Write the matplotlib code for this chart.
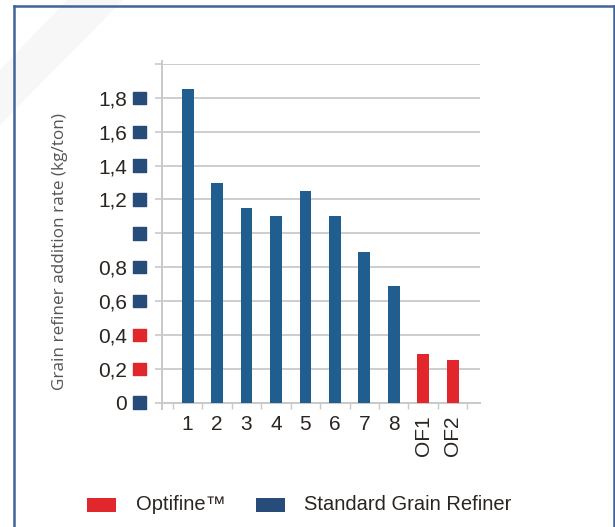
import matplotlib.pyplot as plt
from matplotlib.patches import Rectangle, Polygon
from matplotlib.lines import Line2D
import numpy as np

plt.rcParams['font.family'] = ['Liberation Sans', 'DejaVu Sans']

# data
categories = ['1', '2', '3', '4', '5', '6', '7', '8', 'OF1', 'OF2']
values = [1.85, 1.30, 1.15, 1.10, 1.25, 1.10, 0.89, 0.69, 0.29, 0.25]
is_optifine = [False] * 8 + [True] * 2
ytick_vals = [0, 0.2, 0.4, 0.6, 0.8, 1.0, 1.2, 1.4, 1.6, 1.8, 2.0]
ytick_labels = ['0', '0,2', '0,4', '0,6', '0,8', '', '1,2', '1,4', '1,6', '1,8', '']
marker_vals = [0, 0.2, 0.4, 0.6, 0.8, 1.0, 1.2, 1.4, 1.6, 1.8]
marker_red = [False, True, True, False, False, False, False, False, False, False]

W, H = 615, 527
bar_blue = '#1f5e8e'
dark_blue = '#284c79'
red = '#e1272b'
grid_col = '#c9c9c9'
text_col = '#2b2522'

fig = plt.figure(figsize=(W / 100, H / 100), dpi=100)

def px(x, y):
    return x / W, 1 - y / H

# faint diagonal sheen in the corner
fig.patches.append(Polygon([px(67, 0), px(123, 0), px(0, 125), px(0, 70)],
                           closed=True, transform=fig.transFigure,
                           facecolor='#f7f7f7', edgecolor='none', zorder=0))

# blue frame
frame = '#42639a'
for xs, ys in [((13.5, 13.5), (6, 527)), ((13.5, 614), (6, 6)), ((614, 614), (6, 527))]:
    p0 = px(xs[0], ys[0]); p1 = px(xs[1], ys[1])
    fig.add_artist(Line2D([p0[0], p1[0]], [p0[1], p1[1]], color=frame, lw=1.8,
                          transform=fig.transFigure))

ax_left, ax_right, ax_top, ax_bot = 161.7, 480, 64, 402.7
ax = fig.add_axes([ax_left / W, 1 - ax_bot / H, (ax_right - ax_left) / W, (ax_bot - ax_top) / H])
ax.set_facecolor('none')

x = np.arange(len(categories))
colors = [red if o else bar_blue for o in is_optifine]
ax.bar(x, values, width=0.4, color=colors, zorder=3)

ax.set_xlim(-0.88, 9.93)
ax.set_ylim(0, 2.0)

for s in ax.spines.values():
    s.set_visible(False)
ax.set_yticks(ytick_vals, labels=ytick_labels)
ax.grid(axis='y', color=grid_col, lw=1.3, zorder=0)
ax.tick_params(axis='y', length=5, color=grid_col, width=1.2, pad=20,
               labelsize=15, labelcolor=text_col)

# left axis line, running a little past the plot area
ax.plot([-0.88, -0.88], [-0.04, 2.02], color=grid_col, lw=1.4, clip_on=False, zorder=2)
ax.plot([-0.88, 9.93], [0, 0], color=grid_col, lw=1.4, clip_on=False, zorder=2)

# coloured squares next to y tick labels
mcols = [red if r else dark_blue for r in marker_red]
ax.scatter([-0.07] * len(marker_vals), marker_vals, marker='s', s=80, c=mcols,
           transform=ax.get_yaxis_transform(), clip_on=False, zorder=4)

ax.set_xticks(x, labels=categories)
ax.set_xticks(np.arange(len(categories) + 1) - 0.5, minor=True)
ax.tick_params(axis='x', which='major', length=0, pad=9, labelsize=15, labelcolor=text_col)
ax.tick_params(axis='x', which='minor', length=4, color=grid_col, width=1.0)
for lab, o in zip(ax.get_xticklabels(), is_optifine):
    if o:
        lab.set_rotation(90)

ax.set_ylabel('Grain refiner addition rate (kg/ton)', family=['Open Sans', 'DejaVu Sans'],
              fontsize=12.3, color='#555555')
ax.yaxis.set_label_coords(-0.295, 0.445)

# legend drawn by hand
for x0, col, label, tx in [(87, red, 'Optifine\u2122', 136), (256, dark_blue, 'Standard Grain Refiner', 304)]:
    fig.patches.append(Rectangle(px(x0, 512), 29 / W, 14 / H, transform=fig.transFigure,
                                 facecolor=col, edgecolor='none'))
    tx_f, ty_f = px(tx, 505)
    fig.text(tx_f, ty_f, label, fontsize=14.5, color=text_col, va='center', ha='left')

fig.savefig('out.png', dpi=100)
